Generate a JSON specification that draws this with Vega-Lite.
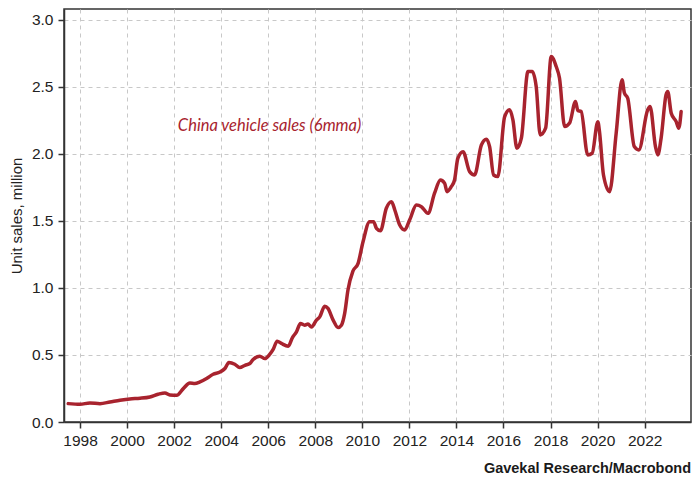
{
  "$schema": "https://vega.github.io/schema/vega-lite/v6.json",
  "width": 627,
  "height": 413,
  "autosize": {"type": "none"},
  "padding": {"left": 64, "top": 9, "right": 7, "bottom": 60},
  "background": "white",
  "title": {
    "text": "Gavekal Research/Macrobond",
    "orient": "bottom",
    "anchor": "end",
    "font": "Liberation Sans",
    "fontSize": 14.5,
    "fontWeight": "bold",
    "color": "#1a1a1a",
    "offset": 13
  },
  "config": {
    "view": {"stroke": "#333333", "strokeWidth": 1.5},
    "axis": {
      "labelFont": "Liberation Sans",
      "labelFontSize": 15.5,
      "labelColor": "#222222",
      "titleFont": "Liberation Sans",
      "titleFontSize": 15,
      "titleFontWeight": "normal",
      "titleColor": "#222222",
      "domainColor": "#333333",
      "domainWidth": 1.5,
      "tickColor": "#333333",
      "tickWidth": 1.5,
      "tickSize": 6,
      "gridColor": "#c8c8c8",
      "gridDash": [4, 4],
      "gridWidth": 1
    }
  },
  "layer": [
    {
      "data": {
        "values": [
          {"year": 1997.50, "value": 0.137},
          {"year": 1998.00, "value": 0.132},
          {"year": 1998.42, "value": 0.142},
          {"year": 1998.85, "value": 0.137},
          {"year": 1999.27, "value": 0.149},
          {"year": 1999.70, "value": 0.162},
          {"year": 2000.12, "value": 0.172},
          {"year": 2000.55, "value": 0.177},
          {"year": 2000.97, "value": 0.187},
          {"year": 2001.32, "value": 0.207},
          {"year": 2001.61, "value": 0.217},
          {"year": 2001.82, "value": 0.202},
          {"year": 2002.11, "value": 0.199},
          {"year": 2002.39, "value": 0.249},
          {"year": 2002.67, "value": 0.291},
          {"year": 2002.88, "value": 0.287},
          {"year": 2003.10, "value": 0.299},
          {"year": 2003.38, "value": 0.324},
          {"year": 2003.66, "value": 0.356},
          {"year": 2003.95, "value": 0.373},
          {"year": 2004.16, "value": 0.399},
          {"year": 2004.33, "value": 0.444},
          {"year": 2004.58, "value": 0.431},
          {"year": 2004.79, "value": 0.406},
          {"year": 2005.01, "value": 0.423},
          {"year": 2005.22, "value": 0.436},
          {"year": 2005.36, "value": 0.466},
          {"year": 2005.64, "value": 0.491},
          {"year": 2005.86, "value": 0.473},
          {"year": 2006.07, "value": 0.506},
          {"year": 2006.21, "value": 0.541},
          {"year": 2006.38, "value": 0.603},
          {"year": 2006.56, "value": 0.586},
          {"year": 2006.85, "value": 0.565},
          {"year": 2007.03, "value": 0.630},
          {"year": 2007.20, "value": 0.672},
          {"year": 2007.37, "value": 0.735},
          {"year": 2007.55, "value": 0.722},
          {"year": 2007.69, "value": 0.730},
          {"year": 2007.84, "value": 0.709},
          {"year": 2008.05, "value": 0.760},
          {"year": 2008.19, "value": 0.784},
          {"year": 2008.40, "value": 0.864},
          {"year": 2008.54, "value": 0.847},
          {"year": 2008.76, "value": 0.760},
          {"year": 2008.97, "value": 0.705},
          {"year": 2009.11, "value": 0.722},
          {"year": 2009.25, "value": 0.810},
          {"year": 2009.39, "value": 0.984},
          {"year": 2009.60, "value": 1.125},
          {"year": 2009.82, "value": 1.183},
          {"year": 2010.03, "value": 1.344},
          {"year": 2010.31, "value": 1.494},
          {"year": 2010.48, "value": 1.494},
          {"year": 2010.60, "value": 1.444},
          {"year": 2010.77, "value": 1.426},
          {"year": 2011.02, "value": 1.594},
          {"year": 2011.24, "value": 1.643},
          {"year": 2011.38, "value": 1.581},
          {"year": 2011.59, "value": 1.469},
          {"year": 2011.80, "value": 1.432},
          {"year": 2012.01, "value": 1.506},
          {"year": 2012.30, "value": 1.618},
          {"year": 2012.51, "value": 1.606},
          {"year": 2012.79, "value": 1.556},
          {"year": 2013.07, "value": 1.706},
          {"year": 2013.32, "value": 1.805},
          {"year": 2013.50, "value": 1.780},
          {"year": 2013.60, "value": 1.718},
          {"year": 2013.78, "value": 1.755},
          {"year": 2013.92, "value": 1.805},
          {"year": 2014.06, "value": 1.967},
          {"year": 2014.28, "value": 2.016},
          {"year": 2014.56, "value": 1.867},
          {"year": 2014.77, "value": 1.842},
          {"year": 2015.06, "value": 2.066},
          {"year": 2015.27, "value": 2.109},
          {"year": 2015.41, "value": 2.054},
          {"year": 2015.58, "value": 1.842},
          {"year": 2015.76, "value": 1.830},
          {"year": 2016.05, "value": 2.278},
          {"year": 2016.26, "value": 2.328},
          {"year": 2016.40, "value": 2.253},
          {"year": 2016.57, "value": 2.042},
          {"year": 2016.76, "value": 2.117},
          {"year": 2017.04, "value": 2.614},
          {"year": 2017.22, "value": 2.614},
          {"year": 2017.39, "value": 2.502},
          {"year": 2017.56, "value": 2.141},
          {"year": 2017.79, "value": 2.191},
          {"year": 2018.03, "value": 2.726},
          {"year": 2018.24, "value": 2.651},
          {"year": 2018.38, "value": 2.565},
          {"year": 2018.60, "value": 2.203},
          {"year": 2018.81, "value": 2.229},
          {"year": 2019.06, "value": 2.390},
          {"year": 2019.16, "value": 2.323},
          {"year": 2019.30, "value": 2.315},
          {"year": 2019.58, "value": 1.992},
          {"year": 2019.77, "value": 2.004},
          {"year": 2020.01, "value": 2.240},
          {"year": 2020.08, "value": 2.166},
          {"year": 2020.25, "value": 1.842},
          {"year": 2020.51, "value": 1.718},
          {"year": 2020.79, "value": 2.154},
          {"year": 2021.04, "value": 2.552},
          {"year": 2021.14, "value": 2.453},
          {"year": 2021.28, "value": 2.415},
          {"year": 2021.56, "value": 2.054},
          {"year": 2021.75, "value": 2.029},
          {"year": 2022.13, "value": 2.328},
          {"year": 2022.23, "value": 2.353},
          {"year": 2022.46, "value": 2.054},
          {"year": 2022.56, "value": 1.992},
          {"year": 2022.70, "value": 2.117},
          {"year": 2022.91, "value": 2.440},
          {"year": 2022.98, "value": 2.465},
          {"year": 2023.13, "value": 2.303},
          {"year": 2023.34, "value": 2.240},
          {"year": 2023.45, "value": 2.191},
          {"year": 2023.55, "value": 2.315}
        ]
      },
      "mark": {"type": "line", "color": "#a8232e", "strokeWidth": 3.5, "interpolate": "monotone", "strokeJoin": "round", "strokeCap": "round"},
      "encoding": {
        "x": {
          "field": "year",
          "type": "quantitative",
          "scale": {"domain": [1997.32, 2023.97], "nice": false, "zero": false},
          "axis": {
            "title": null,
            "values": [1998, 2000, 2002, 2004, 2006, 2008, 2010, 2012, 2014, 2016, 2018, 2020, 2022],
            "format": "d",
            "labelPadding": 5
          }
        },
        "y": {
          "field": "value",
          "type": "quantitative",
          "scale": {"domain": [0, 3.08], "nice": false},
          "axis": {
            "title": "Unit sales, million",
            "values": [0, 0.5, 1, 1.5, 2, 2.5, 3],
            "format": ".1f",
            "labelPadding": 5,
            "titlePadding": 7
          }
        }
      }
    },
    {
      "data": {"values": [{"year": 2002.16, "value": 2.208, "label": "China vehicle sales (6mma)"}]},
      "mark": {"type": "text", "align": "left", "baseline": "middle", "font": "Lato", "fontStyle": "italic", "fontSize": 16.5, "color": "#a8232e"},
      "encoding": {
        "x": {"field": "year", "type": "quantitative"},
        "y": {"field": "value", "type": "quantitative"},
        "text": {"field": "label"}
      }
    }
  ]
}
